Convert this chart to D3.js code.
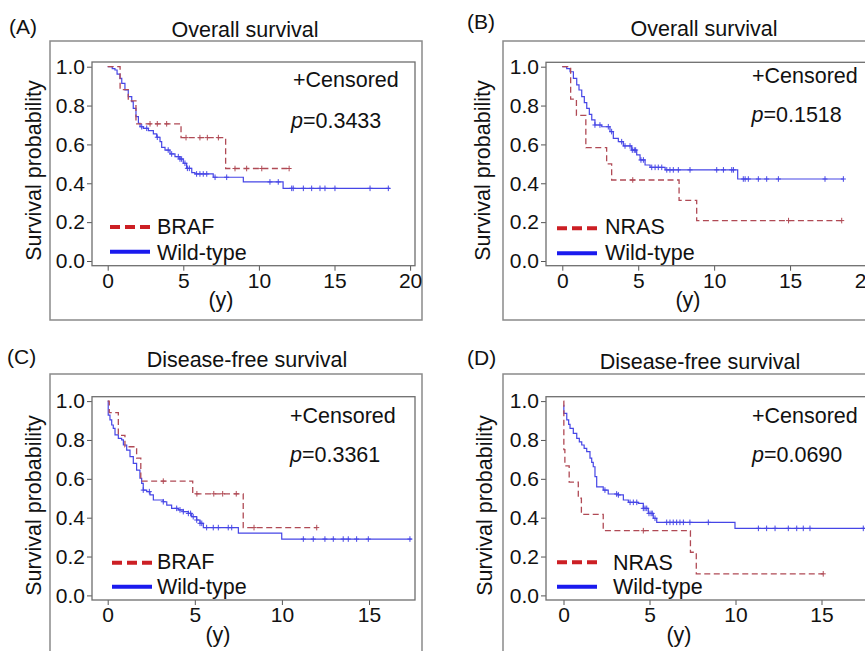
<!DOCTYPE html>
<html>
<head>
<meta charset="utf-8">
<script src="https://cdn.jsdelivr.net/npm/d3@7"></script>
<style>
  body { margin: 0; background: #fff; }
  svg { display: block; font-family: "Liberation Sans", Arial, sans-serif; }
</style>
</head>
<body>
<svg id="chart" width="865" height="651"></svg>
<script>
// tick labels
const yTicks = [0, 0.2, 0.4, 0.6, 0.8, 1.0];
const xTicksOS = [0, 5, 10, 15, 20];
const xTicksDFS = [0, 5, 10, 15];

// (A) overall survival, BRAF vs wild-type  [time (y), survival]
const osBrafA = [[0,1],[0.82,0.882],[1.36,0.824],[1.87,0.706],[4.85,0.635],[7.8,0.476],[12.0,0.476]];
const osBrafCensA = [2.8,3.28,3.9,5.18,6.1,6.59,7.32,8.42,9.19,10.19,12.0];
const osWildA = [[0,1],[0.3,0.99],[0.48,0.983],[0.62,0.962],[0.81,0.94],[0.93,0.914],[1.14,0.88],[1.36,0.846],
  [1.59,0.82],[1.69,0.786],[1.87,0.743],[2.03,0.709],[2.14,0.691],[2.36,0.683],[2.69,0.671],[3.02,0.654],
  [3.24,0.637],[3.46,0.614],[3.57,0.585],[3.79,0.571],[4.12,0.551],[4.45,0.537],[4.78,0.525],[5.0,0.503],
  [5.22,0.477],[5.56,0.455],[5.77,0.448],[6.98,0.431],[8.97,0.407],[11.6,0.374],[18.67,0.374]];
const osWildCensA = [2.25,2.58,3.28,4.0,4.23,4.67,4.78,4.89,5.11,5.27,5.4,5.88,6.1,6.32,6.55,7.1,7.87,
  10.73,11.28,12.17,12.27,12.94,13.49,14.04,14.37,15.03,17.35,18.56];

// (B) overall survival, NRAS vs wild-type
const osNrasB = [[0,1],[0.55,0.833],[0.93,0.75],[1.55,0.583],[2.92,0.5],[3.25,0.417],[7.69,0.3125],[8.85,0.208],[18.4,0.208]];
const osNrasCensB = [4.64,14.9,18.4];
const osWildB = [[0,1],[0.29,0.99],[0.51,0.974],[0.73,0.94],[0.95,0.906],[1.1,0.88],[1.28,0.846],[1.45,0.815],
  [1.61,0.786],[1.78,0.755],[1.94,0.726],[2.15,0.70],[2.6,0.691],[3.14,0.666],[3.36,0.631],[3.69,0.614],
  [4.02,0.592],[4.57,0.571],[4.9,0.546],[5.12,0.52],[5.45,0.494],[5.78,0.482],[6.77,0.469],[11.55,0.422],[18.5,0.422]];
const osWildCensB = [2.15,2.48,3.03,3.25,3.91,4.13,4.46,4.61,4.74,4.83,5.18,5.34,5.89,6.11,6.32,6.55,6.88,
  7.09,7.31,7.64,8.41,10.17,10.61,11.16,11.27,11.92,12.04,12.25,12.91,13.46,14.23,17.3,18.51];

// (C) disease-free survival, BRAF vs wild-type
const dfsBrafC = [[0,1],[0.09,0.941],[0.61,0.824],[0.99,0.765],[1.66,0.706],[1.9,0.588],[4.88,0.523],[7.78,0.349],[12.0,0.349]];
const dfsBrafCensC = [3.19,5.12,6.09,6.6,7.38,8.4,12.0];
const dfsWildC = [[0,1],[0.03,0.928],[0.13,0.903],[0.23,0.877],[0.32,0.86],[0.42,0.826],[0.61,0.808],[0.8,0.8],
  [0.9,0.774],[1.09,0.748],[1.28,0.714],[1.47,0.68],[1.66,0.645],[1.85,0.603],[1.95,0.577],[2.04,0.542],
  [2.24,0.534],[2.43,0.517],[2.62,0.491],[3.19,0.482],[3.39,0.465],[3.67,0.448],[4.05,0.44],[4.34,0.431],
  [4.63,0.422],[4.82,0.405],[5.11,0.388],[5.3,0.371],[5.49,0.349],[7.5,0.32],[9.99,0.29],[17.45,0.29]];
const dfsWildCensC = [2.04,2.39,3.19,3.96,4.15,4.34,4.63,4.76,4.91,5.11,5.3,5.4,5.68,6.06,6.35,6.92,7.12,
  11.23,11.8,12.47,12.95,13.52,13.81,14.29,14.96,17.35];

// (D) disease-free survival, NRAS vs wild-type
const dfsNrasD = [[0,1],[0.02,0.75],[0.08,0.667],[0.33,0.583],[0.86,0.5],[1.04,0.417],[2.31,0.333],[7.38,0.222],[7.72,0.111],[15.1,0.111]];
const dfsNrasCensD = [4.64,15.1];
const dfsWildD = [[0,0.978],[0.02,0.937],[0.19,0.903],[0.3,0.88],[0.38,0.86],[0.57,0.834],[0.77,0.808],
  [0.92,0.79],[1.06,0.774],[1.2,0.757],[1.35,0.74],[1.54,0.706],[1.64,0.685],[1.73,0.662],[1.83,0.611],
  [1.93,0.559],[2.31,0.542],[2.6,0.522],[3.19,0.517],[3.48,0.491],[3.77,0.479],[4.35,0.474],[4.64,0.448],
  [4.93,0.422],[5.22,0.397],[5.42,0.376],[9.97,0.345],[17.6,0.345]];
const dfsWildCensD = [2.41,3.09,3.19,3.87,4.06,4.26,4.64,4.74,4.84,4.97,5.09,5.16,5.32,6.0,6.19,6.38,6.58,
  6.77,6.97,7.35,8.42,11.33,11.81,12.3,13.07,13.56,13.94,14.33,17.43];

const mutColor = '#b04a55';
const wildColor = '#4646e6';

const panels = [
  { tag: '(A)', title: 'Overall survival', p: '0.3433', group: 'BRAF',
    mut: osBrafA, mutCens: osBrafCensA, wild: osWildA, wildCens: osWildCensA,
    xTicks: xTicksOS, xDomain: [0, 20], xRange: [107.7, 410.1], yRange: [261, 66.7],
    box: [50, 41, 372, 279], frame: [92, 62, 415, 265.7],
    tagPos: [9, 34], titlePos: [245, 37], ylabPos: [41, 170.5], xlabPos: [221, 307],
    censPos: [293, 87], pPos: [291, 127.5],
    legLine: [110, 150], legY: [227, 251.7], legText: [157, 234, 260] },
  { tag: '(B)', title: 'Overall survival', p: '0.1518', group: 'NRAS',
    mut: osNrasB, mutCens: osNrasCensB, wild: osWildB, wildCens: osWildCensB,
    xTicks: xTicksOS, xDomain: [0, 20], xRange: [562.3, 866], yRange: [261, 66.7],
    box: [503, 41, 400, 279], frame: [546, 62.3, 869, 265.7],
    tagPos: [467, 29], titlePos: [704, 36], ylabPos: [490, 170.5], xlabPos: [688, 307],
    censPos: [752, 83], pPos: [751.5, 122.3],
    legLine: [557, 597], legY: [228.3, 253.3], legText: [605, 233.5, 260] },
  { tag: '(C)', title: 'Disease-free survival', p: '0.3361', group: 'BRAF',
    mut: dfsBrafC, mutCens: dfsBrafCensC, wild: dfsWildC, wildCens: dfsWildCensC,
    xTicks: xTicksDFS, xDomain: [0, 15], xRange: [107.7, 369], yRange: [595.4, 401.1],
    box: [50, 374, 372, 300], frame: [92, 396.7, 415, 600],
    tagPos: [7, 364], titlePos: [247, 366.5], ylabPos: [41, 505.5], xlabPos: [218, 642],
    censPos: [290, 422.7], pPos: [290, 461.7],
    legLine: [112, 152], legY: [562.7, 586.7], legText: [157, 568.5, 594] },
  { tag: '(D)', title: 'Disease-free survival', p: '0.0690', group: 'NRAS',
    mut: dfsNrasD, mutCens: dfsNrasCensD, wild: dfsWildD, wildCens: dfsWildCensD,
    xTicks: xTicksDFS, xDomain: [0, 15], xRange: [563.5, 821.5], yRange: [595.4, 401.1],
    box: [503, 374, 400, 300], frame: [546, 396.7, 869, 600],
    tagPos: [467, 365], titlePos: [700, 369], ylabPos: [492, 505.5], xlabPos: [679, 642],
    censPos: [752, 422.7], pPos: [752, 461.7],
    legLine: [557, 597], legY: [562.3, 586.7], legText: [613, 569.5, 594] }
];

const svg = d3.select('#chart');

function survAt(curve, t) {
  let s = curve[0][1];
  curve.forEach((d) => { if (d[0] <= t) s = d[1]; });
  return s;
}

panels.forEach((cfg) => {
  const g = svg.append('g');
  const x = d3.scaleLinear().domain(cfg.xDomain).range(cfg.xRange);
  const y = d3.scaleLinear().domain([0, 1]).range(cfg.yRange);
  const [fl, ft, fr, fb] = cfg.frame;

  // outer box
  g.append('rect')
    .attr('x', cfg.box[0]).attr('y', cfg.box[1])
    .attr('width', cfg.box[2]).attr('height', cfg.box[3])
    .attr('fill', 'none').attr('stroke', '#8a8a8a').attr('stroke-width', 1.5);

  g.append('text')
    .attr('x', cfg.tagPos[0]).attr('y', cfg.tagPos[1])
    .attr('font-size', 21).attr('fill', '#111').text(cfg.tag);

  g.append('text')
    .attr('x', cfg.titlePos[0]).attr('y', cfg.titlePos[1])
    .attr('text-anchor', 'middle').attr('font-size', 21.5).attr('fill', '#111')
    .text(cfg.title);

  // axes
  const yAxis = g.append('g')
    .attr('transform', `translate(${fl},0)`)
    .call(d3.axisLeft(y).tickValues(yTicks).tickFormat(d3.format('.1f')).tickSize(5).tickPadding(2));
  const xAxis = g.append('g')
    .attr('transform', `translate(0,${fb})`)
    .call(d3.axisBottom(x).tickValues(cfg.xTicks).tickSize(5).tickPadding(2));
  [yAxis, xAxis].forEach((a) => {
    a.select('.domain').remove();
    a.selectAll('line').attr('stroke', '#555');
    a.selectAll('text').attr('font-size', 21).attr('fill', '#111')
      .attr('font-family', '"Liberation Sans", Arial, sans-serif');
  });

  // inner frame
  g.append('rect')
    .attr('x', fl).attr('y', ft)
    .attr('width', fr - fl).attr('height', fb - ft)
    .attr('fill', 'none').attr('stroke', '#6e6e6e').attr('stroke-width', 1.3);

  g.append('text')
    .attr('transform', `translate(${cfg.ylabPos[0]},${cfg.ylabPos[1]}) rotate(-90)`)
    .attr('text-anchor', 'middle').attr('font-size', 21.5).attr('fill', '#111')
    .text('Survival probability');

  g.append('text')
    .attr('x', cfg.xlabPos[0]).attr('y', cfg.xlabPos[1])
    .attr('text-anchor', 'middle').attr('font-size', 21.5).attr('fill', '#111')
    .text('(y)');

  // curves
  const line = d3.line()
    .x((d) => x(d[0]))
    .y((d) => y(d[1]))
    .curve(d3.curveStepAfter);

  g.append('path').datum(cfg.wild)
    .attr('d', line).attr('fill', 'none')
    .attr('stroke', wildColor).attr('stroke-width', 1.2);

  g.append('path').datum(cfg.mut)
    .attr('d', line).attr('fill', 'none')
    .attr('stroke', mutColor).attr('stroke-width', 1.3)
    .attr('stroke-dasharray', '6,3.5');

  // censor marks
  const plus = (t, curve) => {
    const cx = x(t), cy = y(survAt(curve, t));
    return `M${cx - 2.5},${cy}h5M${cx},${cy - 2.8}v5.6`;
  };
  g.append('path')
    .attr('d', cfg.wildCens.map((t) => plus(t, cfg.wild)).join(''))
    .attr('fill', 'none').attr('stroke', wildColor).attr('stroke-width', 1);
  g.append('path')
    .attr('d', cfg.mutCens.map((t) => plus(t, cfg.mut)).join(''))
    .attr('fill', 'none').attr('stroke', mutColor).attr('stroke-width', 1);

  // annotations
  g.append('text')
    .attr('x', cfg.censPos[0]).attr('y', cfg.censPos[1])
    .attr('font-size', 21.5).attr('fill', '#111').text('+Censored');
  const pt = g.append('text')
    .attr('x', cfg.pPos[0]).attr('y', cfg.pPos[1])
    .attr('font-size', 21.5).attr('fill', '#111');
  pt.append('tspan').attr('font-style', 'italic').text('p');
  pt.append('tspan').text('=' + cfg.p);

  // legend
  g.append('line')
    .attr('x1', cfg.legLine[0]).attr('x2', cfg.legLine[1])
    .attr('y1', cfg.legY[0]).attr('y2', cfg.legY[0])
    .attr('stroke', '#cc1f24').attr('stroke-width', 4).attr('stroke-dasharray', '10,5');
  g.append('line')
    .attr('x1', cfg.legLine[0]).attr('x2', cfg.legLine[1])
    .attr('y1', cfg.legY[1]).attr('y2', cfg.legY[1])
    .attr('stroke', '#1a1aee').attr('stroke-width', 4);
  g.append('text')
    .attr('x', cfg.legText[0]).attr('y', cfg.legText[1])
    .attr('font-size', 21.5).attr('fill', '#111').text(cfg.group);
  g.append('text')
    .attr('x', cfg.legText[0]).attr('y', cfg.legText[2])
    .attr('font-size', 21.5).attr('fill', '#111').text('Wild-type');
});
</script>
</body>
</html>
